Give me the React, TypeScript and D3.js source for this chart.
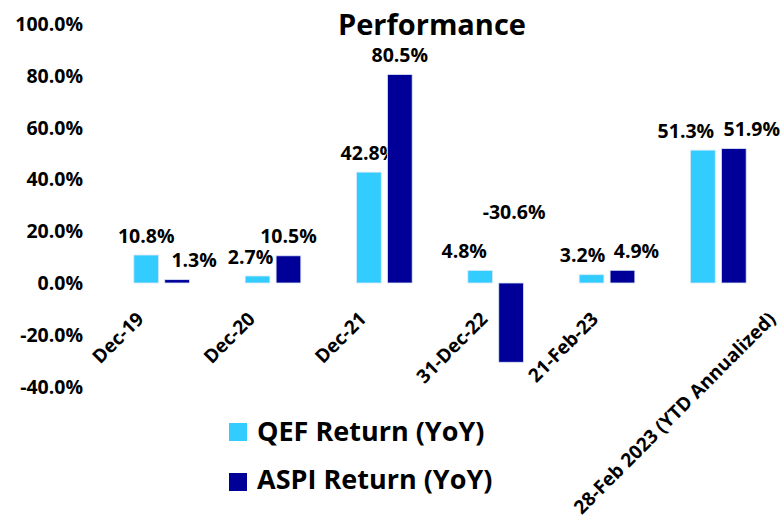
import * as React from 'react';
import { useRef, useEffect } from 'react';
import * as d3 from 'd3';

const categories = ['Dec-19', 'Dec-20', 'Dec-21', '31-Dec-22', '21-Feb-23', '28-Feb 2023 (YTD Annualized)'];
const seriesNames = ['QEF Return (YoY)', 'ASPI Return (YoY)'];
const qefValues = [10.8, 2.7, 42.8, 4.8, 3.2, 51.3];
const aspiValues = [1.3, 10.5, 80.5, -30.6, 4.9, 51.9];
const yTicks = [100, 80, 60, 40, 20, 0, -20, -40];

// hand-nudged label positions, like the dragged labels in the original
const qefLabelDx = [0, -7, 0, -16, -9, -17];
const aspiLabelDx = [17, 0, 0, 3, 14, 18];
const aspiLabelDy = [0, 0, 0, -52, 0, 0];

const W = 783;
const H = 523;
const FONT = "'Open Sans', sans-serif";
const colors = ['#33CCFF', '#000099'];

const pct = (d: number) => d.toFixed(1) + '%';

const Chart = () => {
  const svgRef = useRef<SVGSVGElement>(null);

  useEffect(() => {
    const svg = d3.select(svgRef.current);
    svg.selectAll('*').remove();

    const x0 = d3.scaleBand().domain(categories).range([106, 774]).paddingInner(0.5).paddingOuter(0.25);
    const x1 = d3.scaleBand().domain(seriesNames).range([0, x0.bandwidth()]).paddingInner(0.2);
    const y = d3.scaleLinear().domain([-40, 100]).range([386.6, 24]);

    // title
    svg.append('text')
      .attr('x', 432).attr('y', 35)
      .attr('text-anchor', 'middle')
      .style('font-family', FONT).style('font-weight', 700).style('font-size', '29px')
      .text('Performance');

    // y axis labels
    svg.append('g').selectAll('text').data(yTicks).join('text')
      .attr('x', 83).attr('y', (d) => y(d))
      .attr('dy', '0.36em')
      .attr('text-anchor', 'end')
      .style('font-family', FONT).style('font-weight', 700).style('font-size', '19.5px')
      .text(pct);

    const series = [qefValues, aspiValues];
    series.forEach((vals, si) => {
      const name = seriesNames[si];
      svg.append('g').selectAll('rect').data(vals).join('rect')
        .attr('x', (d, i) => (x0(categories[i]) as number) + (x1(name) as number))
        .attr('y', (d) => y(Math.max(d, 0)))
        .attr('width', x1.bandwidth())
        .attr('height', (d) => Math.abs(y(d) - y(0)))
        .attr('fill', colors[si])
        .attr('stroke', '#d8e8f5')
        .attr('stroke-width', 0.8);

      svg.append('g').selectAll('text').data(vals).join('text')
        .attr('x', (d, i) => (x0(categories[i]) as number) + (x1(name) as number) + x1.bandwidth() / 2
          + (si === 0 ? qefLabelDx[i] : aspiLabelDx[i]))
        .attr('y', (d, i) => y(Math.max(d, 0)) - 12.5 + (si === 1 ? aspiLabelDy[i] : 0))
        .attr('text-anchor', 'middle')
        .style('font-family', FONT).style('font-weight', 700).style('font-size', '19.5px')
        .text(pct);
    });

    // rotated category labels: bbox centred left of the band centre, top aligned
    categories.forEach((c) => {
      const g = svg.append('g');
      g.append('text')
        .attr('transform', 'rotate(-45)')
        .attr('text-anchor', 'end')
        .style('font-family', FONT).style('font-weight', 700).style('font-size', '19px')
        .text(c);
      const bb = (g.node() as SVGGElement).getBBox();
      const cx = (x0(c) as number) + x0.bandwidth() / 2 - 44;
      g.attr('transform', `translate(${cx - (bb.x + bb.width / 2)},${306 - bb.y})`);
    });

    // legend
    const legend = svg.append('g');
    seriesNames.forEach((name, i) => {
      legend.append('rect')
        .attr('x', 229).attr('y', 423 + i * 50)
        .attr('width', 18).attr('height', 18)
        .attr('fill', colors[i]);
      legend.append('text')
        .attr('x', 257).attr('y', 441 + i * 48)
        .style('font-family', FONT).style('font-weight', 700).style('font-size', '27px')
        .text(name);
    });
  }, []);

  return <svg ref={svgRef} width={W} height={H} style={{ display: 'block' }} />;
};

export default function App() {
  return (
    <div style={{ position: 'absolute', left: 0, top: 0, background: '#fff' }}>
      <Chart />
    </div>
  );
}
